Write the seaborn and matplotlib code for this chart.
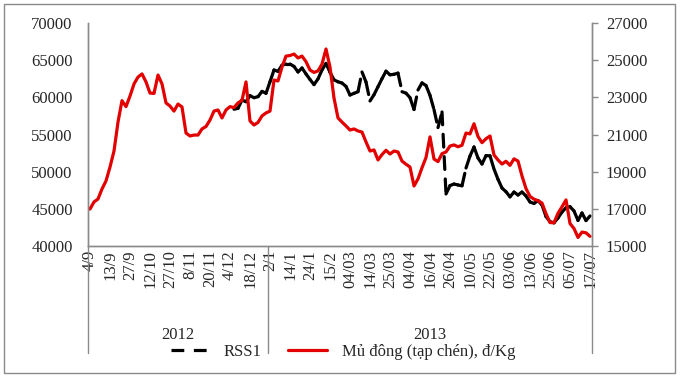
#!/usr/bin/env python3

import numpy as np
import pandas as pd
import matplotlib
matplotlib.use("Agg")
import matplotlib.pyplot as plt
import matplotlib.transforms as mtransforms
from matplotlib.lines import Line2D
from matplotlib.patches import Rectangle
import seaborn as sns

# --- data ---
date_labels = ["4/9", "13/9", "27/9", "12/10", "27/10", "8/11", "20/11", "4/12", "18/12",
               "2/1", "14/1", "24/1", "15/2", "04/03", "14/03", "25/03", "04/04", "16/04",
               "26/04", "10/05", "22/05", "03/06", "13/06", "25/06", "05/07", "17/07"]
year_labels = ["2012", "2013"]

# Mủ đông (tạp chén), đ/Kg  -> right axis, 126 points
mu_dong = [16990, 17370, 17530, 18070, 18500, 19250, 20110, 21670, 22820, 22500,
           23070, 23720, 24090, 24260, 23830, 23230, 23210, 24200, 23720, 22700,
           22530, 22260, 22640, 22480, 21080, 20920, 20970, 20970, 21300, 21430,
           21780, 22260, 22320, 21890, 22320, 22500, 22450, 22700, 22840, 23830,
           21730, 21510, 21650, 22000, 22160, 22260, 23930, 23880, 24630, 25220,
           25250, 25330, 25120, 25220, 24920, 24470, 24340, 24420, 24790, 25600,
           24630, 22960, 21890, 21670, 21460, 21240, 21300, 21190, 21130, 20600,
           20110, 20170, 19630, 19920, 20150, 19950, 20110, 20060, 19570, 19400,
           19250, 18230, 18610, 19210, 19760, 20870, 19680, 19540, 19970, 20060,
           20380, 20440, 20340, 20420, 21080, 21030, 21580, 20890, 20560, 20770,
           20920, 19900, 19630, 19410, 19560, 19340, 19690, 19570, 18770, 18090,
           17670, 17520, 17440, 17310, 16740, 16260, 16250, 16760, 17110, 17480,
           16210, 15940, 15460, 15750, 15710, 15520]

# RSS1 -> left axis, starts at point 36
rss1_start = 36
rss1 = [58400, 58520, 59640, 59410, 60220, 59950, 60090, 60800, 60540, 62100,
        63680, 63500, 64320, 64480, 64480, 64160, 63410, 63950, 63150, 62400,
        61710, 62480, 63680, 64570, 63370, 62350, 62090, 61920, 61470, 60310,
        60540, 60760, 63410, 62060, 59510, 60350, 61430, 62510, 63520, 63030,
        63100, 63260, 60760, 60560, 59960, 58360, 60990, 61940, 61590, 60260,
        58350, 55930, 58030, 47000, 48130, 48340, 48210, 48100, 50490, 52110,
        53320, 51840, 51030, 52160, 52130, 50360, 48970, 47800, 47300, 46610,
        47260, 46860, 47260, 46730, 45920, 45720, 46110, 45520, 43960, 43270,
        43120, 43770, 44570, 45150, 45290, 44710, 43440, 44440, 43420, 44040]

RED = "#E30000"
GREY = "#8a8a8a"
LW = 2.3

sns.set_style("white")
plt.rcParams["font.family"] = ["Liberation Serif", "DejaVu Serif"]
plt.rcParams["font.size"] = 12

fig = plt.figure(figsize=(6.83, 3.78), dpi=100)
ax = fig.add_axes([88 / 683, 1 - 246 / 378, 504 / 683, 223 / 378])
ax2 = ax.twinx()

# RSS1: excel restarts the dash pattern on every segment, so draw it piecewise
rss_x = np.arange(rss1_start, rss1_start + len(rss1))
rows = []
for k in range(len(rss1) - 1):
    rows.append((rss_x[k], rss1[k], k))
    rows.append((rss_x[k + 1], rss1[k + 1], k))
seg_df = pd.DataFrame(rows, columns=["x", "y", "seg"])
sns.lineplot(data=seg_df, x="x", y="y", units="seg", estimator=None, ax=ax,
             color="black", lw=LW, linestyle=(0, (4, 3)), dash_capstyle="round",
             legend=False)

# Mủ đông
red_df = pd.DataFrame({"x": np.arange(len(mu_dong)), "y": mu_dong})
sns.lineplot(data=red_df, x="x", y="y", ax=ax2, color=RED, lw=LW,
             solid_joinstyle="round", legend=False)

# axes limits / ticks
n = len(mu_dong)
ax.set_xlim(-0.5, n - 0.5)
ax.set_ylim(40000, 70000)
ax2.set_ylim(15000, 27000)
ax.set_yticks(np.arange(40000, 70001, 5000))
ax2.set_yticks(np.arange(15000, 27001, 2000))
ax.set_xticks(np.arange(0, n, 5))
ax.set_xticklabels(date_labels, rotation=90)
for a in (ax, ax2):
    a.set_xlabel("")
    a.set_ylabel("")
    a.grid(False)
    for s in a.spines.values():
        s.set_color(GREY)
        s.set_linewidth(1.0)
    a.spines["top"].set_visible(False)
ax.tick_params(axis="x", length=0, pad=3, labelsize=12)
ax.tick_params(axis="y", length=0, pad=11, labelsize=12)
ax2.tick_params(axis="y", length=4, width=1, color=GREY, pad=6, labelsize=12)

# multi-level category lines and year labels
trans = mtransforms.blended_transform_factory(ax.transData, ax.transAxes)
for xv in (-0.5, 44.5, n - 0.5):
    ax.plot([xv, xv], [0, -0.48], transform=trans, color=GREY, lw=1.0, clip_on=False)
ax.text(22, -0.40, year_labels[0], transform=trans, ha="center", va="center", fontsize=12)
ax.text(85, -0.40, year_labels[1], transform=trans, ha="center", va="center", fontsize=12)

# legend
handles = [Line2D([], [], color="black", lw=LW, linestyle=(0, (4, 3))),
           Line2D([], [], color=RED, lw=LW)]
fig.legend(handles, ["RSS1", "Mủ đông (tạp chén), đ/Kg"], loc="center",
           bbox_to_anchor=(0.502, 0.068), ncol=2, frameon=False,
           handlelength=2.3, handletextpad=0.9, columnspacing=1.6, fontsize=12)

# outer chart border
fig.add_artist(Rectangle((4 / 683, 1 - 373 / 378), 671 / 683, 369 / 378,
                         transform=fig.transFigure, fill=False, ec=GREY, lw=1.0))

fig.savefig("out.png", dpi=100)
